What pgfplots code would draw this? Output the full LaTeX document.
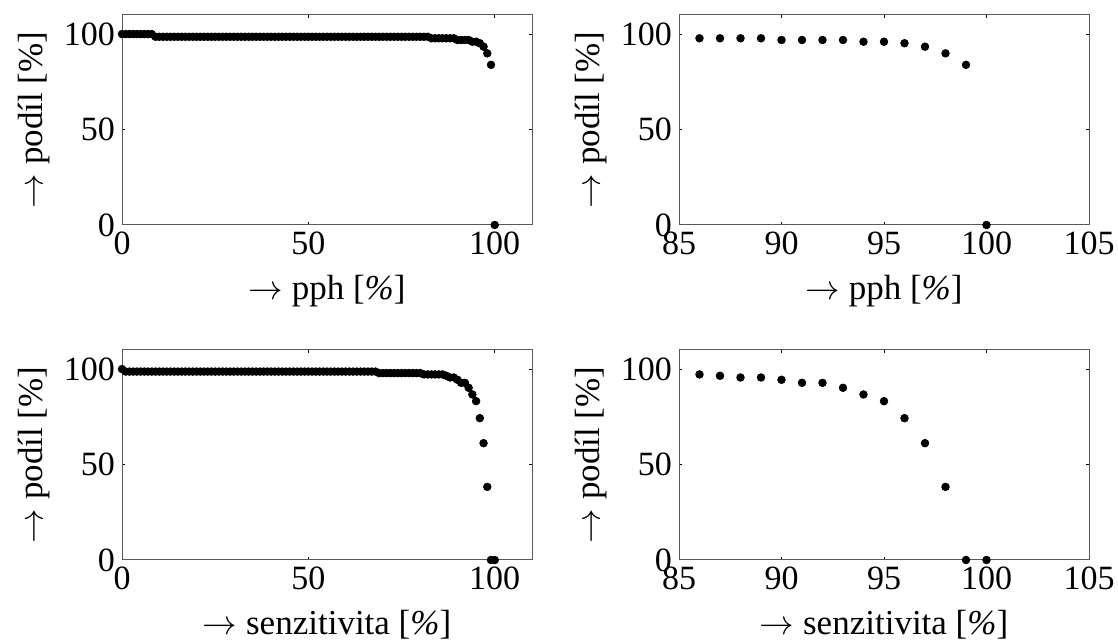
\documentclass[border=0pt]{standalone}
\usepackage{fontspec}
\setmainfont{Liberation Serif}
\usepackage{pgfplots}
\usepackage{pgfplotstable}
\pgfplotsset{compat=1.18}
\newcommand\fs{\fontsize{17}{20}\selectfont}
\newcommand\fl{\fontsize{17.5}{21}\selectfont}

% pph vs podil
\pgfplotstableread[row sep=\\]{
x y\\ 0 100\\ 1 100\\ 2 100\\ 3 100\\ 4 100\\ 5 100\\ 6 100\\ 7 100\\ 8 100\\
9 98.6\\ 10 98.6\\ 11 98.6\\ 12 98.6\\ 13 98.6\\ 14 98.6\\ 15 98.6\\ 16 98.6\\ 17 98.6\\ 18 98.6\\ 19 98.6\\
20 98.6\\ 21 98.6\\ 22 98.6\\ 23 98.6\\ 24 98.6\\ 25 98.6\\ 26 98.6\\ 27 98.6\\ 28 98.6\\ 29 98.6\\
30 98.6\\ 31 98.6\\ 32 98.6\\ 33 98.6\\ 34 98.6\\ 35 98.6\\ 36 98.6\\ 37 98.6\\ 38 98.6\\ 39 98.6\\
40 98.6\\ 41 98.6\\ 42 98.6\\ 43 98.6\\ 44 98.6\\ 45 98.6\\ 46 98.6\\ 47 98.6\\ 48 98.6\\ 49 98.6\\
50 98.6\\ 51 98.6\\ 52 98.6\\ 53 98.6\\ 54 98.6\\ 55 98.6\\ 56 98.6\\ 57 98.6\\ 58 98.6\\ 59 98.6\\
60 98.6\\ 61 98.6\\ 62 98.6\\ 63 98.6\\ 64 98.6\\ 65 98.6\\ 66 98.6\\ 67 98.6\\ 68 98.6\\ 69 98.6\\
70 98.6\\ 71 98.6\\ 72 98.6\\ 73 98.6\\ 74 98.6\\ 75 98.6\\ 76 98.6\\ 77 98.6\\ 78 98.6\\ 79 98.6\\
80 98.6\\ 81 98.6\\ 82 98.6\\ 83 97.8\\ 84 97.8\\ 85 97.8\\ 86 97.8\\ 87 97.8\\ 88 97.8\\ 89 97.8\\
90 96.9\\ 91 96.9\\ 92 96.9\\ 93 96.9\\ 94 96.0\\ 95 96.0\\ 96 95.2\\ 97 93.4\\ 98 89.9\\ 99 83.9\\
100 0\\
}\pph

% senzitivita vs podil
\pgfplotstableread[row sep=\\]{
x y\\ 0 100\\ 1 98.7\\ 2 98.7\\ 3 98.7\\ 4 98.7\\ 5 98.7\\ 6 98.7\\ 7 98.7\\ 8 98.7\\ 9 98.7\\
10 98.7\\ 11 98.7\\ 12 98.7\\ 13 98.7\\ 14 98.7\\ 15 98.7\\ 16 98.7\\ 17 98.7\\ 18 98.7\\ 19 98.7\\
20 98.7\\ 21 98.7\\ 22 98.7\\ 23 98.7\\ 24 98.7\\ 25 98.7\\ 26 98.7\\ 27 98.7\\ 28 98.7\\ 29 98.7\\
30 98.7\\ 31 98.7\\ 32 98.7\\ 33 98.7\\ 34 98.7\\ 35 98.7\\ 36 98.7\\ 37 98.7\\ 38 98.7\\ 39 98.7\\
40 98.7\\ 41 98.7\\ 42 98.7\\ 43 98.7\\ 44 98.7\\ 45 98.7\\ 46 98.7\\ 47 98.7\\ 48 98.7\\ 49 98.7\\
50 98.7\\ 51 98.7\\ 52 98.7\\ 53 98.7\\ 54 98.7\\ 55 98.7\\ 56 98.7\\ 57 98.7\\ 58 98.7\\ 59 98.7\\
60 98.7\\ 61 98.7\\ 62 98.7\\ 63 98.7\\ 64 98.7\\ 65 98.7\\ 66 98.7\\ 67 98.7\\ 68 98.7\\ 69 97.9\\
70 97.9\\ 71 97.9\\ 72 97.9\\ 73 97.9\\ 74 97.9\\ 75 97.9\\ 76 97.9\\ 77 97.9\\ 78 97.9\\ 79 97.9\\
80 97.9\\ 81 97.2\\ 82 97.2\\ 83 97.2\\ 84 97.2\\ 85 97.2\\ 86 97.2\\ 87 96.5\\ 88 95.6\\ 89 95.6\\
90 94.4\\ 91 92.8\\ 92 92.8\\ 93 90.2\\ 94 86.7\\ 95 83.2\\ 96 74.3\\ 97 61.2\\ 98 38.3\\ 99 0\\
100 0\\
}\senz

\pgfplotsset{
  panel/.style={
    width=205pt, height=105pt, scale only axis,
    ymin=0, ymax=110, ytick={0,50,100},
    clip=false,
    axis line style={gray!70!black, line width=0.5pt},
    tick style={black, line width=0.5pt},
    major tick length=1.6pt,
    ticklabel style={font=\fs},
    /pgf/number format/assume math mode=true,
    label style={font=\fl},
    xlabel style={yshift=-3pt},
    ylabel={$\rightarrow$ podíl [\%]},
  },
  dots/.style={only marks, mark=*, mark size=1.9pt, black},
}

\begin{document}
\begin{tikzpicture}
% page frame matching the reference margins (1px = 0.5pt)
\useasboundingbox (-61pt,-41pt) rectangle (498pt,280pt);
% top left
\begin{axis}[panel, at={(0pt,167.5pt)}, xmin=0, xmax=110, xtick={0,50,100},
  xlabel={$\rightarrow$ pph [{\itshape\%}]}]
\addplot[dots] table {\pph};
\end{axis}
% top right
\begin{axis}[panel, at={(278.5pt,167.5pt)}, xmin=85, xmax=105, xtick={85,90,...,105},
  xlabel={$\rightarrow$ pph [{\itshape\%}]}]
\addplot[dots, restrict x to domain=85.5:100.5] table {\pph};
\end{axis}
% bottom left
\begin{axis}[panel, at={(0pt,0pt)}, xmin=0, xmax=110, xtick={0,50,100},
  xlabel={$\rightarrow$ senzitivita [{\itshape\%}]}]
\addplot[dots] table {\senz};
\end{axis}
% bottom right
\begin{axis}[panel, at={(278.5pt,0pt)}, xmin=85, xmax=105, xtick={85,90,...,105},
  xlabel={$\rightarrow$ senzitivita [{\itshape\%}]}]
\addplot[dots, restrict x to domain=85.5:100.5] table {\senz};
\end{axis}
\end{tikzpicture}
\end{document}
